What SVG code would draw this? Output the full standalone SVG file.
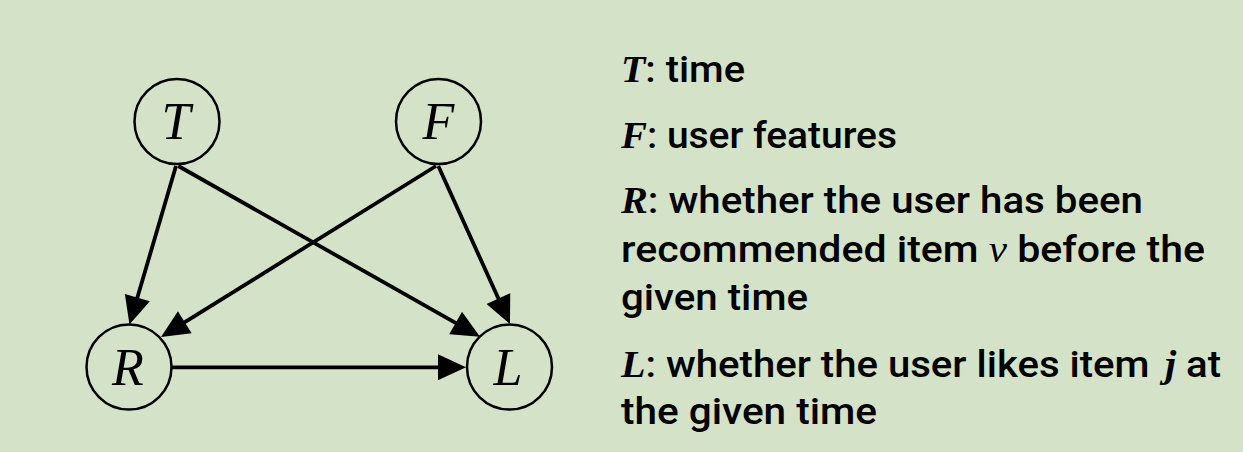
<svg xmlns="http://www.w3.org/2000/svg" width="1243" height="452" viewBox="0 0 1243 452">
<style>
.node circle{fill:none;stroke:#000;stroke-width:2.5}
.node text{font-family:"Liberation Serif",serif;font-style:italic;font-size:52px;text-anchor:middle;fill:#000}
.edge{stroke:#000;stroke-width:3.8;fill:none;marker-end:url(#ah)}
.leg{font-family:Roboto,"Noto Sans",sans-serif;font-size:37px;font-weight:500;fill:#000}
.m{font-family:"Liberation Serif",serif;font-style:italic;font-weight:bold}
.mi{font-family:"Liberation Serif",serif;font-style:italic;font-weight:normal}
</style>
<defs>
<marker id="ah" markerUnits="userSpaceOnUse" markerWidth="28" markerHeight="26" refX="8" refY="13" orient="auto" overflow="visible">
<path d="M0,0 L28,13 L0,26 z" fill="#000"/>
</marker>
</defs>
<rect width="1243" height="452" fill="#d4e3c8"/>
<g id="connectors">
<line class="edge" x1="176" y1="166" x2="135.1" y2="305.3"/>
<line class="edge" x1="178.3" y1="166" x2="462.6" y2="326.9"/>
<line class="edge" x1="436" y1="166" x2="178" y2="326.4"/>
<line class="edge" x1="438.3" y1="166" x2="501.7" y2="305.8"/>
<line class="edge" x1="172" y1="367.3" x2="446" y2="367.3"/>
</g>
<g id="node-T" class="node"><circle cx="177" cy="121.5" r="42.5"/><text x="176" y="139">T</text></g>
<g id="node-F" class="node"><circle cx="438.5" cy="121.5" r="42.5"/><text x="438.5" y="139">F</text></g>
<g id="node-R" class="node"><circle cx="129" cy="367" r="42.5"/><text x="128" y="385">R</text></g>
<g id="node-L" class="node"><circle cx="509.5" cy="367" r="42.5"/><text x="508" y="385">L</text></g>
<g id="legend" class="leg">
<text x="621" y="82" textLength="124" lengthAdjust="spacingAndGlyphs"><tspan class="m">T</tspan>: time</text>
<text x="621" y="148" textLength="276" lengthAdjust="spacingAndGlyphs"><tspan class="m">F</tspan>: user features</text>
<text x="621" y="213" textLength="522" lengthAdjust="spacingAndGlyphs"><tspan class="m">R</tspan>: whether the user has been</text>
<text x="621" y="262" textLength="584" lengthAdjust="spacingAndGlyphs">recommended item <tspan class="mi">v</tspan> before the</text>
<text x="621" y="310" textLength="187" lengthAdjust="spacingAndGlyphs">given time</text>
<text x="621" y="377" textLength="600" lengthAdjust="spacingAndGlyphs"><tspan class="m">L</tspan>: whether the user likes item <tspan class="m" dx="5">j</tspan> at</text>
<text x="621" y="424" textLength="256" lengthAdjust="spacingAndGlyphs">the given time</text>
</g>
</svg>
